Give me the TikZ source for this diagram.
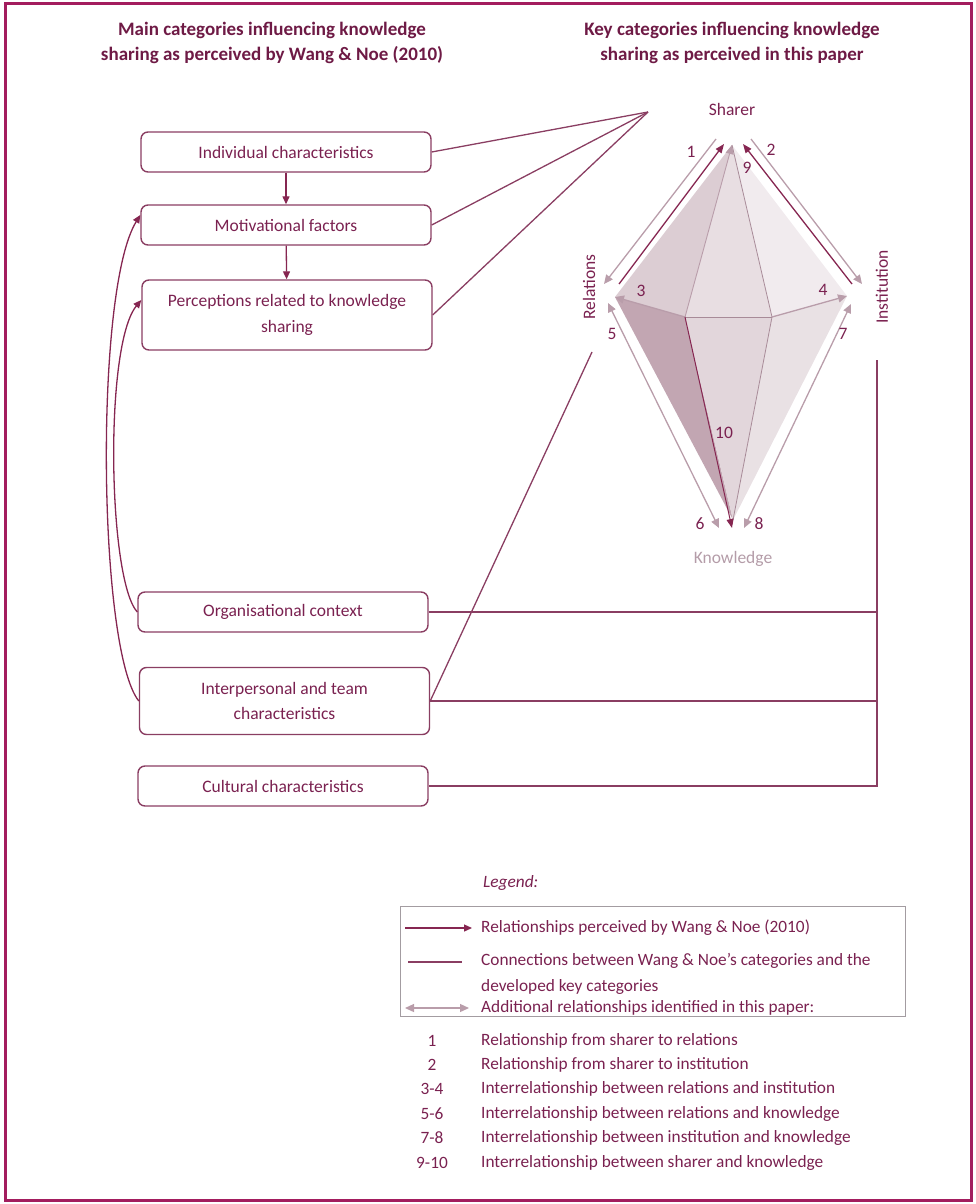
\documentclass[tikz,border=0pt]{standalone}
\usepackage{fontspec}
\setmainfont{Carlito}
\usetikzlibrary{arrows.meta}
\definecolor{plum}{HTML}{7A2150}
\definecolor{titlec}{HTML}{6E1A45}
\definecolor{boxline}{HTML}{8A3E62}
\definecolor{framec}{HTML}{A31D5E}
\definecolor{lightarr}{HTML}{B99DAA}
\definecolor{edgec}{HTML}{A88B98}
\definecolor{darkarr}{HTML}{862651}
\definecolor{knowc}{HTML}{B49CA8}
\definecolor{legendline}{HTML}{A39CA1}
\definecolor{faceA}{HTML}{DCCDD3}
\definecolor{faceB}{HTML}{E8DEE2}
\definecolor{faceC}{HTML}{F1EBEE}
\definecolor{faceD}{HTML}{C2A6B2}
\definecolor{faceE}{HTML}{E2D6DB}
\definecolor{faceF}{HTML}{E9E1E4}
\begin{document}
\begin{tikzpicture}[x=1pt,y=-1pt,
  catbox/.style={draw=boxline, line width=1.4pt, rounded corners=7pt,
    minimum width=290pt, minimum height=40pt, inner sep=0pt, align=center,
    text=plum, font=\fontsize{17.5}{25.5}\selectfont},
  title/.style={text=titlec, align=center, font=\fontsize{19}{25}\selectfont\bfseries},
  lbl/.style={text=plum, font=\fontsize{17.5}{20}\selectfont, inner sep=1pt},
  legtext/.style={text=plum, anchor=west, align=left, inner sep=0pt,
    font=\fontsize{17.3}{26}\selectfont},
  conn/.style={draw=boxline, line width=1.3pt},
  flow/.style={draw=darkarr, line width=1.3pt, -{Triangle[length=8pt,width=7pt]}},
  darkpair/.style={draw=darkarr, line width=1.3pt, -{Triangle[length=9pt,width=7pt]}},
  lightpair/.style={draw=lightarr, line width=1.3pt, -{Triangle[length=9pt,width=8pt]}},
  lightboth/.style={draw=lightarr, line width=1.3pt, {Triangle[length=9pt,width=8pt]}-{Triangle[length=9pt,width=8pt]}},
  edge/.style={draw=edgec, line width=0.8pt}
]
\useasboundingbox (0,0) rectangle (976,1204);
% outer frame
\draw[framec, line width=3pt] (5,4) rectangle (971,1200);

% headings
\node[title] (lefttitle) at (272,43) {Main categories influencing knowledge\\sharing as perceived by Wang \& Noe (2010)};
\node[title] (righttitle) at (732,43) {Key categories influencing knowledge\\sharing as perceived in this paper};

% Wang & Noe categories
\node[catbox] (ind) at (286,152) {Individual characteristics};
\node[catbox] (mot) at (286,225) {Motivational factors};
\node[catbox, minimum height=70pt] (perc) at (287,315) {Perceptions related to knowledge\\sharing};
\node[catbox] (org) at (283,612) {Organisational context};
\node[catbox, minimum height=67pt] (inter) at (284.5,701) {Interpersonal and team\\characteristics};
\node[catbox] (cult) at (283,786) {Cultural characteristics};

\draw[flow] (ind) -- (mot);
\draw[flow] (mot) -- (perc);
\draw[flow] (inter.west) .. controls (98,650) and (94,290) .. (mot.west |- 0,215);
\draw[flow] (org.west) .. controls (108,580) and (104,345) .. (perc.west |- 0,300);

% key categories: the crystal
\coordinate (T) at (732,145);
\coordinate (L) at (615,297);
\coordinate (R) at (847,296);
\coordinate (IL) at (685,317);
\coordinate (IR) at (772,317);
\coordinate (B) at (733,520);
\coordinate (Btip) at (732,528);

\fill[faceA] (T) -- (L) -- (IL) -- cycle;
\fill[faceB] (T) -- (IL) -- (IR) -- cycle;
\fill[faceC] (T) -- (IR) -- (R) -- cycle;
\fill[faceD] (L) -- (IL) -- (B) -- cycle;
\fill[faceE] (IL) -- (IR) -- (B) -- cycle;
\fill[faceF] (IR) -- (R) -- (B) -- cycle;
\draw[edge] (T) -- (IR);
\draw[edge] (IL) -- (IR);
\draw[edge] (IR) -- (B);

% 3-4
\draw[lightpair] (IL) -- (L);
\draw[lightpair] (IR) -- (R);
% 9-10
\draw[lightpair, line width=0.9pt] (IL) -- (T);
\draw[draw=darkarr!70!edgec, line width=1pt, -{Triangle[length=9pt,width=7pt]}, darkarr] (IL) -- (Btip);

% 1 and 2
\coordinate (d1s) at (619,284);
\coordinate (d1e) at (724,144);
\coordinate (l1s) at (716,139);
\coordinate (l1e) at (604,284);
\coordinate (d2s) at (852,284);
\coordinate (d2e) at (743,144);
\coordinate (l2s) at (751,139);
\coordinate (l2e) at (862,284);
\draw[darkpair] (d1s) -- (d1e);
\draw[lightpair] (l1s) -- (l1e);
\draw[darkpair] (d2s) -- (d2e);
\draw[lightpair] (l2s) -- (l2e);
% 5-6 and 7-8
\coordinate (a5) at (608,303);
\coordinate (a6) at (719,528);
\coordinate (a7) at (851,304);
\coordinate (a8) at (744,528);
\draw[lightboth] (a5) -- (a6);
\draw[lightboth] (a7) -- (a8);

% labels
\node[lbl] (sharer) at (732,109) {Sharer};
\node[lbl, text=knowc] (knowledge) at (733,559) {Knowledge};
\node[lbl, rotate=90] (relations) at (589,287) {Relations};
\node[lbl, rotate=90] (institution) at (882,287) {Institution};
\node[lbl] (n1) at (691,152) {1};
\node[lbl] (n2) at (771,150) {2};
\node[lbl] (n9) at (747,168) {9};
\node[lbl] (n3) at (641,291) {3};
\node[lbl] (n4) at (823,290) {4};
\node[lbl] (n5) at (612,334) {5};
\node[lbl] (n7) at (843,334) {7};
\node[lbl] (n10) at (724,433) {10};
\node[lbl] (n6) at (700,524) {6};
\node[lbl] (n8) at (759,524) {8};

% connections between both sets of categories
\coordinate (sharerfocus) at (648,112);
\coordinate (relfoot) at (592,352);
\coordinate (instfoot) at (877,360);
\draw[conn] (ind.east) -- (sharerfocus);
\draw[conn] (mot.east) -- (sharerfocus);
\draw[conn] (perc.east) -- (sharerfocus);
\draw[conn] (inter.east) -- (relfoot);
\draw[conn] (instfoot) -- (instfoot |- cult.east) -- (cult.east);
\draw[conn] (org.east) -- (org.east -| instfoot);
\draw[conn] (inter.east) -- (inter.east -| instfoot);

% legend
\node[text=plum, anchor=west, inner sep=0pt, font=\fontsize{17.3}{20}\selectfont\itshape] (legendtitle) at (483,883) {Legend:};
\draw[legendline, line width=1pt] (400,906) rectangle (905,1016);
\coordinate (lg1a) at (405,928);
\coordinate (lg1b) at (472,928);
\coordinate (lg2a) at (408,962);
\coordinate (lg2b) at (462,962);
\coordinate (lg3a) at (405,1008);
\coordinate (lg3b) at (469,1008);
\draw[flow] (lg1a) -- (lg1b);
\draw[conn] (lg2a) -- (lg2b);
\draw[lightboth] (lg3a) -- (lg3b);
\node[legtext] (lt1) at (481,928) {Relationships perceived by Wang \& Noe (2010)};
\node[legtext] (lt2) at (481,974) {Connections between Wang \& Noe’s categories and the\\developed key categories};
\node[legtext] (lt3) at (481,1008) {Additional relationships identified in this paper:};

\foreach \y/\num/\txt [count=\i] in {
  1041/1/Relationship from sharer to relations,
  1065/2/Relationship from sharer to institution,
  1089/3-4/Interrelationship between relations and institution,
  1114/5-6/Interrelationship between relations and knowledge,
  1138/7-8/Interrelationship between institution and knowledge,
  1163/9-10/Interrelationship between sharer and knowledge}{
  \node[text=plum, inner sep=0pt, font=\fontsize{17.3}{20}\selectfont] (num\i) at (432,\y) {\num};
  \node[legtext] (item\i) at (481,\y) {\txt};
}
\end{tikzpicture}
\end{document}
